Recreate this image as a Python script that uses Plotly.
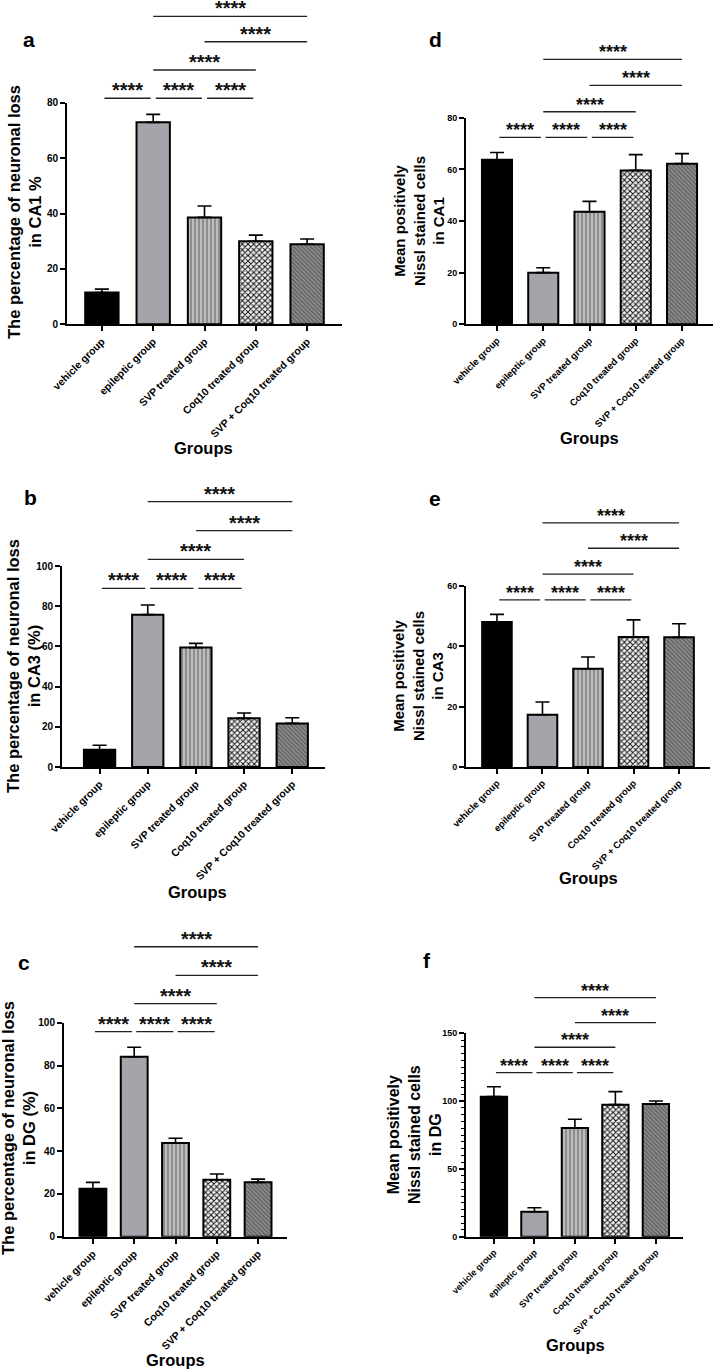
import plotly.graph_objects as go

W, H = 715, 1370
FONT = "Liberation Sans"

categories = ["vehicle group", "epileptic group", "SVP treated group",
              "Coq10 treated group", "SVP + Coq10 treated group"]

# mean and SEM per group
a_mean = [11.5, 72.9, 38.6, 30.0, 28.9]
a_sem = [1.2, 2.9, 4.1, 2.2, 1.9]
b_mean = [8.6, 75.8, 59.4, 24.2, 21.7]
b_sem = [2.2, 4.8, 2.1, 2.7, 2.8]
c_mean = [22.4, 84.1, 43.8, 26.6, 25.4]
c_sem = [3.0, 4.4, 2.2, 2.7, 1.5]
d_mean = [63.7, 20.0, 43.6, 59.6, 62.2]
d_sem = [2.8, 1.9, 4.0, 6.1, 3.9]
e_mean = [48.0, 17.3, 32.5, 43.0, 42.9]
e_sem = [2.5, 4.2, 3.9, 5.7, 4.5]
f_mean = [103.3, 18.4, 80.2, 97.4, 97.9]
f_sem = [7.3, 3.0, 6.4, 9.6, 2.2]

# significance comparisons (group index pairs) and their bracket row
comparisons = [(0, 1), (1, 2), (2, 3), (1, 3), (2, 4), (1, 4)]
bracket_rows = [0, 0, 0, 1, 2, 3]
sig_label = "****"
# bracket heights (data units) per row
a_levels = [81.6, 91.8, 102.0, 111.2]
b_levels = [88.9, 103.3, 117.6, 132.0]
c_levels = [95.8, 108.9, 122.1, 135.5]
d_levels = [72.4, 82.3, 92.5, 102.6]
e_levels = [55.3, 63.8, 72.4, 80.8]
f_levels = [121.0, 139.7, 157.8, 176.3]

loss_title = "The percentage of neuronal loss"
nissl_title = "Mean positively<br>Nissl stained cells"
y_titles = {
    "a": loss_title + "<br>in CA1 %",
    "b": loss_title + "<br>in CA3 (%)",
    "c": loss_title + "<br>in DG (%)",
    "d": nissl_title + "<br>in CA1",
    "e": nissl_title + "<br>in CA3",
    "f": nissl_title + "<br>in DG",
}
x_title = "Groups"

# styling per group (one bar trace per group)
group_styles = [
    dict(color="#000000", shape="", fg="#000000", size=6, sol=0.3),
    dict(color="#a4a4aa", shape="", fg="#a4a4aa", size=6, sol=0.3),
    dict(color="#8e8e8e", shape="|", fg="#dcdcdc", size=4, sol=0.3),
    dict(color="#f2f2f2", shape="x", fg="#1a1a1a", size=4, sol=0.45),
    dict(color="#666666", shape="\\", fg="#9c9c9c", size=3, sol=0.35),
]

# layout geometry (pixels)
panels = [
    dict(letter="a", mean=a_mean, sem=a_sem, levels=a_levels, ymax=80, dtick=20, minor=None,
         box=(67, 342, 102.7, 324.3), xr=(-0.68, 4.68), tick=10, cat=10.5, title=16.5, star=20,
         letter_xy=(29, 40), ytitle_xy=(25, 212), groups_xy=(204, 448)),
    dict(letter="b", mean=b_mean, sem=b_sem, levels=b_levels, ymax=100, dtick=20, minor=None,
         box=(62, 325, 566, 767), xr=(-0.78, 4.68), tick=10, cat=10.5, title=16.5, star=20,
         letter_xy=(30, 497), ytitle_xy=(23, 666), groups_xy=(197, 892)),
    dict(letter="c", mean=c_mean, sem=c_sem, levels=c_levels, ymax=100, dtick=20, minor=None,
         box=(64, 287, 1022.7, 1236.7), xr=(-0.70, 4.70), tick=10, cat=10.5, title=16.5, star=20,
         letter_xy=(24, 962), ytitle_xy=(18, 1128), groups_xy=(175, 1360)),
    dict(letter="d", mean=d_mean, sem=d_sem, levels=d_levels, ymax=80, dtick=20, minor=None,
         box=(466, 713, 117.7, 324.3), xr=(-0.67, 4.67), tick=9, cat=9.5, title=15, star=18,
         letter_xy=(435, 39), ytitle_xy=(419, 221), groups_xy=(589, 438)),
    dict(letter="e", mean=e_mean, sem=e_sem, levels=e_levels, ymax=60, dtick=20, minor=None,
         box=(466, 710, 585.7, 767), xr=(-0.68, 4.68), tick=9, cat=9.5, title=15, star=18,
         letter_xy=(435, 498), ytitle_xy=(418, 676), groups_xy=(588, 878)),
    dict(letter="f", mean=f_mean, sem=f_sem, levels=f_levels, ymax=150, dtick=50, minor=5,
         box=(466, 683, 1033.3, 1236.7), xr=(-0.69, 4.67), tick=9, cat=9, title=16, star=18,
         letter_xy=(427, 960), ytitle_xy=(414, 1135), groups_xy=(575, 1345)),
]


def px(x):
    return x / W


def py(y):
    return 1 - y / H


fig = go.Figure()
shapes = []
annotations = []
idx = list(range(len(categories)))

for n, p in enumerate(panels, start=1):
    sfx = "" if n == 1 else str(n)
    xa, ya = "x" + sfx, "y" + sfx
    for k, st in enumerate(group_styles):
        marker = dict(color=st["color"], line=dict(color="black", width=2))
        if st["shape"]:
            marker["pattern"] = dict(shape=st["shape"], fgcolor=st["fg"], bgcolor=st["color"],
                                     size=st["size"], solidity=st["sol"], fillmode="replace",
                                     fgopacity=1)
        fig.add_trace(go.Bar(
            x=[idx[k]], y=[p["mean"][k]], width=0.65,
            xaxis=xa, yaxis=ya, marker=marker,
            error_y=dict(type="data", symmetric=False, array=[p["sem"][k]], arrayminus=[0],
                         color="black", thickness=1.6, width=7),
            showlegend=False, hoverinfo="skip", name=categories[k],
        ))
    x0p, x1p, ytop, ybot = p["box"]
    fig.layout["xaxis" + sfx] = dict(
        domain=[px(x0p), px(x1p)], range=list(p["xr"]), anchor=ya, automargin=False,
        tickmode="array", tickvals=idx, ticktext=categories, tickangle=-45,
        ticks="outside", ticklen=5, tickwidth=1.5, tickcolor="black",
        showline=True, linewidth=2, linecolor="black", showgrid=False, zeroline=False,
        tickfont=dict(family=FONT, size=p["cat"], color="black", weight="bold"),
        fixedrange=True,
    )
    ydict = dict(
        domain=[py(ybot), py(ytop)], range=[0, p["ymax"]], anchor=xa, automargin=False,
        dtick=p["dtick"], tick0=0, ticks="outside", ticklen=5, tickwidth=1.5, tickcolor="black",
        showline=True, linewidth=2, linecolor="black", showgrid=False, zeroline=False,
        tickfont=dict(family=FONT, size=p["tick"], color="black", weight="bold"),
        fixedrange=True,
    )
    if p["minor"]:
        ydict["minor"] = dict(dtick=p["minor"], ticks="outside", ticklen=3, tickwidth=1.3,
                              tickcolor="black", showgrid=False)
    fig.layout["yaxis" + sfx] = ydict

    # significance brackets
    for (i, j), row in zip(comparisons, bracket_rows):
        lev = p["levels"][row] / p["ymax"]
        shrink = 0.05 if j - i == 1 else 0.0
        bx0, bx1 = i + shrink, j - shrink
        shapes.append(dict(type="line", xref=xa, yref=ya + " domain",
                           x0=bx0, x1=bx1, y0=lev, y1=lev,
                           line=dict(color="#222222", width=1.3)))
        annotations.append(dict(xref=xa, yref=ya + " domain", x=(bx0 + bx1) / 2, y=lev,
                                text="<b>" + sig_label + "</b>", showarrow=False,
                                xanchor="center", yanchor="bottom", yshift=-5,
                                font=dict(family=FONT, size=p["star"], color="#111111")))

    # panel letter
    lx, ly = p["letter_xy"]
    annotations.append(dict(xref="paper", yref="paper", x=px(lx), y=py(ly),
                            text="<b>" + p["letter"] + "</b>", showarrow=False,
                            xanchor="center", yanchor="middle",
                            font=dict(family=FONT, size=21, color="black")))
    # y title
    tx, ty = p["ytitle_xy"]
    annotations.append(dict(xref="paper", yref="paper", x=px(tx), y=py(ty),
                            text="<b>" + y_titles[p["letter"]] + "</b>", showarrow=False,
                            textangle=-90, xanchor="center", yanchor="middle",
                            font=dict(family=FONT, size=p["title"], color="black")))
    # x title
    gx, gy = p["groups_xy"]
    annotations.append(dict(xref="paper", yref="paper", x=px(gx), y=py(gy),
                            text="<b>" + x_title + "</b>", showarrow=False,
                            xanchor="center", yanchor="middle",
                            font=dict(family=FONT, size=16.5, color="black")))

fig.update_layout(
    template="none", barmode="overlay",
    width=W, height=H, margin=dict(l=0, r=0, t=0, b=0, autoexpand=False),
    paper_bgcolor="white", plot_bgcolor="white",
    font=dict(family=FONT, color="black"),
    shapes=shapes, annotations=annotations, showlegend=False,
)

fig.write_html("out.html")
